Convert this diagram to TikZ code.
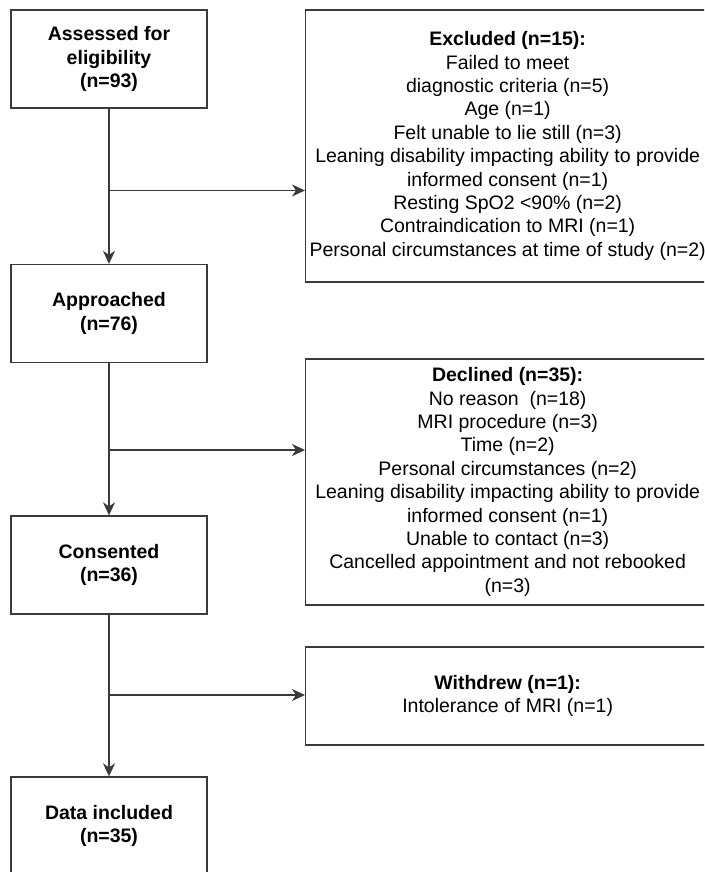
\documentclass[tikz,border=0pt]{standalone}
\usepackage{fontspec}
\setmainfont{Liberation Sans}
\usetikzlibrary{arrows.meta}
\definecolor{linegray}{HTML}{3A3A3A}
\begin{document}
\begin{tikzpicture}[x=1pt,y=1pt,
  box/.style={draw=linegray, line width=1.3pt, rectangle, align=center, inner sep=0pt,
    font=\fontsize{19.5}{23.4}\selectfont, text=black},
  leftbox/.style={box, minimum width=196pt, minimum height=98pt, font=\fontsize{19.5}{23.4}\selectfont\bfseries},
  rightbox/.style={box, minimum width=404pt, anchor=west},
  arr/.style={draw=linegray, line width=1.3pt, -{Stealth[length=13pt,width=12pt,inset=4pt]}},
  ln/.style={draw=linegray, line width=1.3pt}]
\useasboundingbox (0,0) rectangle (704,-872);
\clip (0,0) rectangle (704,-872);
\fill[white] (0,0) rectangle (704,-872);

\node[leftbox] (b1) at (109,-59) {Assessed for\\eligibility\\(n=93)};
\node[leftbox] (b2) at (109,-313.5) {Approached\\(n=76)};
\node[leftbox] (b3) at (109,-565) {Consented\\(n=36)};
\node[leftbox] (b4) at (109,-826) {Data included\\(n=35)};

\node[rightbox, minimum height=272pt] (r1) at (305,-146) {\textbf{Excluded (n=15):}\\Failed to meet\\diagnostic criteria (n=5)\\Age (n=1)\\Felt unable to lie still (n=3)\\Leaning disability impacting ability to provide\\informed consent (n=1)\\Resting SpO2 <90\% (n=2)\\Contraindication to MRI (n=1)\\Personal circumstances at time of study (n=2)};
\node[rightbox, minimum height=246pt] (r2) at (305,-482) {\textbf{Declined (n=35):}\\No reason\ \ (n=18)\\MRI procedure (n=3)\\Time (n=2)\\Personal circumstances (n=2)\\Leaning disability impacting ability to provide\\informed consent (n=1)\\Unable to contact (n=3)\\Cancelled appointment and not rebooked\\(n=3)};
\node[rightbox, minimum height=98pt] (r3) at (305,-696) {\textbf{Withdrew (n=1):}\\Intolerance of MRI (n=1)};

\coordinate (j1) at (109,-190.5);
\coordinate (j2) at (109,-450);
\coordinate (j3) at (109,-695);

\draw[arr] (b1.south) -- (b2.north);
\draw[arr] (b2.south) -- (b3.north);
\draw[arr] (b3.south) -- (b4.north);
\draw[arr] (j1) -- (j1 -| r1.west);
\draw[arr] (j2) -- (j2 -| r2.west);
\draw[arr] (j3) -- (j3 -| r3.west);
\end{tikzpicture}
\end{document}
